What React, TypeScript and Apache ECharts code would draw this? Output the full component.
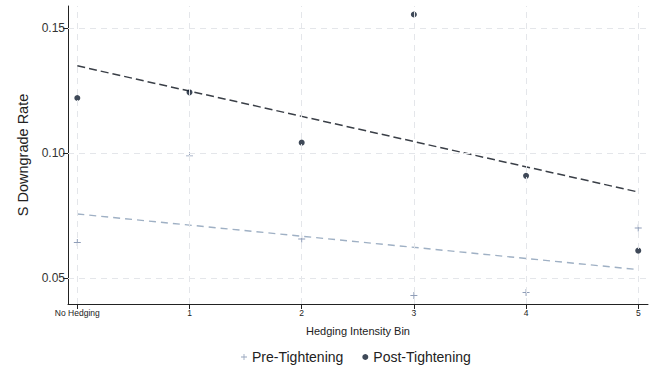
import React, { useEffect, useRef } from "react";
import * as echarts from "echarts";

const categories = [0, 1, 2, 3, 4, 5];
const categoryLabels = ["No Hedging", "1", "2", "3", "4", "5"];
const preValues = [0.0642, 0.0989, 0.0656, 0.0429, 0.0441, 0.07];
const postValues = [0.1221, 0.1244, 0.1042, 0.1556, 0.0909, 0.0609];
const fitX = [0, 5];
const preFit = [0.0756, 0.0533];
const postFit = [0.135, 0.0844];
const yTicks = [0.05, 0.1, 0.15];

const PLUS = "path://M4.3,0H5.7V4.3H10V5.7H5.7V10H4.3V5.7H0V4.3H4.3Z";
const FONT = "Liberation Sans, Arial, sans-serif";

export default function App() {
  const ref = useRef<HTMLDivElement>(null);
  useEffect(() => {
    if (!ref.current) return;
    const chart = echarts.init(ref.current, undefined, { renderer: "svg" });
    const gridStyle = { color: "#e4e6ea", type: [6, 5] as any, width: 1 };
    chart.setOption({
      animation: false,
      backgroundColor: "#ffffff",
      textStyle: { fontFamily: FONT },
      grid: { left: 68, right: 5, top: 6, bottom: 65, containLabel: false },
      legend: {
        bottom: 0,
        left: 236,
        itemWidth: 6,
        itemHeight: 6,
        itemGap: 19,
        textStyle: { fontSize: 14, color: "#222", fontFamily: FONT },
        data: [
          { name: "Pre-Tightening", icon: PLUS, itemStyle: { color: "#7d8fad" } },
          { name: "Post-Tightening", icon: "circle", itemStyle: { color: "#0f1c2e" } },
        ],
      },
      xAxis: {
        type: "value",
        min: -0.083,
        max: 5.087,
        name: "Hedging Intensity Bin",
        nameLocation: "middle",
        nameGap: 21,
        nameTextStyle: { fontSize: 11, color: "#222", fontFamily: FONT },
        axisLine: { onZero: false, lineStyle: { color: "#222", width: 1 } },
        axisTick: { show: true, length: 5, lineStyle: { color: "#222" }, customValues: categories },
        axisLabel: {
          fontSize: 8.5,
          color: "#222",
          margin: 4,
          customValues: categories,
          formatter: (v: number) => categoryLabels[categories.indexOf(Math.round(v))] ?? "",
        },
        splitLine: { show: false },
      },
      yAxis: {
        type: "value",
        min: 0.0395,
        max: 0.159,
        name: "S Downgrade Rate",
        nameLocation: "middle",
        nameGap: 38,
        nameTextStyle: { fontSize: 14.5, color: "#222", fontFamily: FONT },
        axisLine: { show: true, onZero: false, lineStyle: { color: "#222", width: 1 } },
        axisTick: { show: true, length: 5, lineStyle: { color: "#222" }, customValues: yTicks },
        axisLabel: {
          fontSize: 12,
          color: "#333",
          margin: 3,
          customValues: yTicks,
          formatter: (v: number) => v.toFixed(2),
        },
        splitLine: { show: false },
      },
      series: [
        {
          name: "grid",
          type: "line",
          data: [],
          silent: true,
          z: 0,
          markLine: {
            silent: true,
            symbol: "none",
            label: { show: false },
            lineStyle: gridStyle,
            data: [
              ...categories.map((c) => ({ xAxis: c })),
              ...yTicks.map((t) => ({ yAxis: t })),
            ],
          },
        },
        {
          name: "Pre fit",
          type: "line",
          data: fitX.map((x, i) => [x, preFit[i]]),
          symbol: "none",
          lineStyle: { color: "#9fb0c4", width: 1.4, type: [7, 5] },
          z: 2,
        },
        {
          name: "Post fit",
          type: "line",
          data: fitX.map((x, i) => [x, postFit[i]]),
          symbol: "none",
          lineStyle: { color: "#3a3f47", width: 1.5, type: [8, 4] },
          z: 2,
        },
        {
          name: "Pre-Tightening",
          type: "scatter",
          data: categories.map((c, i) => [c, preValues[i]]),
          symbol: PLUS,
          symbolSize: 7,
          itemStyle: { color: "#7486a6" },
          z: 3,
        },
        {
          name: "Post-Tightening",
          type: "scatter",
          data: categories.map((c, i) => [c, postValues[i]]),
          symbol: "circle",
          symbolSize: 6,
          itemStyle: { color: "#0f1c2e" },
          z: 4,
        },
      ],
    });
    return () => chart.dispose();
  }, []);
  return (
    <div
      ref={ref}
      style={{ position: "fixed", left: 0, top: 0, width: 653, height: 369, background: "#fff" }}
    />
  );
}
